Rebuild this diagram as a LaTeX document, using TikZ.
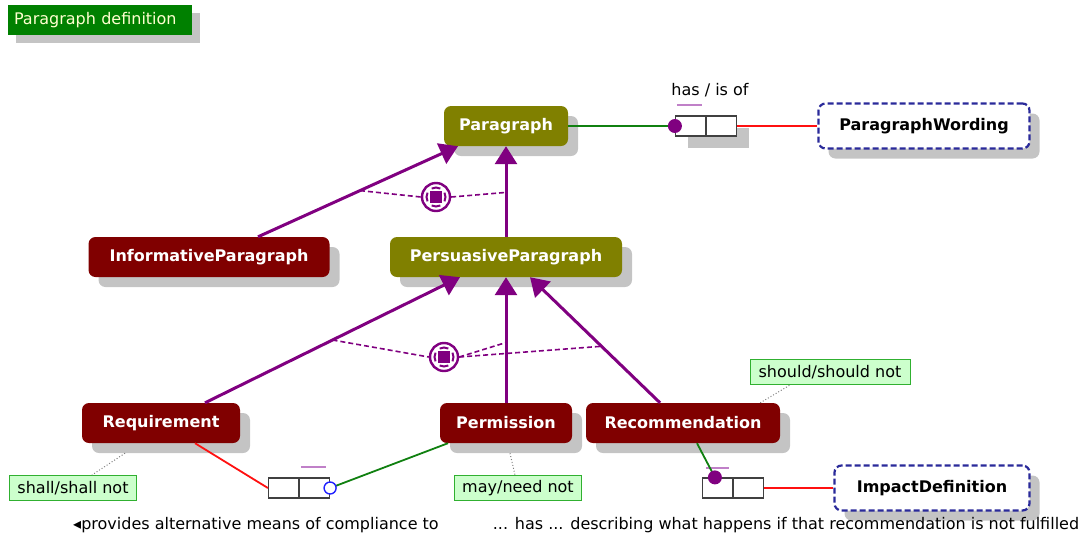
\documentclass[tikz,border=0pt]{standalone}
\usepackage{fontspec}
\setmainfont{DejaVu Sans}
\usetikzlibrary{arrows.meta,shadows,calc}
\definecolor{olivebox}{HTML}{808000}
\definecolor{maroonbox}{HTML}{800000}
\definecolor{purp}{HTML}{800080}
\definecolor{purplight}{HTML}{C080C8}
\definecolor{assocgreen}{HTML}{108010}
\definecolor{assocred}{HTML}{FF1010}
\definecolor{navydash}{HTML}{2A2A9A}
\definecolor{shadowgray}{HTML}{C4C4C4}
\definecolor{notefill}{HTML}{CCFFCC}
\definecolor{noteborder}{HTML}{30B030}
\definecolor{titlegreen}{HTML}{008000}
\definecolor{titletext}{HTML}{FFFFD0}
\definecolor{openblue}{HTML}{2020FF}
\begin{document}
\begin{tikzpicture}[x=1pt,y=-1pt,
  boxshadow/.style={drop shadow={shadow xshift=10pt,shadow yshift=-10pt,fill=shadowgray,opacity=1}},
  cls/.style={rounded corners=7pt,minimum height=40pt,inner sep=0pt,text=white,
    font=\bfseries\fontsize{16}{18}\selectfont,boxshadow},
  olivecls/.style={cls,fill=olivebox},
  maroon/.style={cls,fill=maroonbox},
  extcls/.style={cls,fill=white,draw=navydash,line width=2.2pt,dash pattern=on 6pt off 3pt,
    text=black,minimum height=45pt},
  note/.style={fill=notefill,draw=noteborder,line width=1pt,minimum height=25pt,inner sep=0pt,
    font=\fontsize{16}{18}\selectfont},
  lbl/.style={font=\fontsize{16}{18}\selectfont,inner sep=0pt},
  gen/.style={draw=purp,line width=3pt,-{Triangle[length=18pt,width=22pt]}},
  gsline/.style={draw=purp,line width=1.6pt,dash pattern=on 5pt off 3pt},
  gsring/.style={circle,draw=purp,line width=2.4pt,fill=white,minimum size=28pt,inner sep=0pt},
  multbox/.style={draw=black!75,line width=1.2pt,fill=white,minimum width=61pt,minimum height=20pt,inner sep=0pt},
  multmark/.style={draw=purplight,line width=2pt},
  assocg/.style={draw=assocgreen,line width=1.8pt},
  assocr/.style={draw=assocred,line width=1.8pt},
  notelink/.style={draw=gray,line width=1pt,dotted},
  enddot/.style={circle,fill=purp,minimum size=14pt,inner sep=0pt},
  endopen/.style={circle,draw=openblue,fill=white,line width=1.4pt,minimum size=12pt,inner sep=0pt}
]
\useasboundingbox (0,0) rectangle (1089,539);

% title tab
\node[fill=titlegreen,text=titletext,text width=172pt,inner xsep=6pt,align=left,
  minimum height=30pt,inner ysep=0pt,font=\fontsize{16}{18}\selectfont,
  drop shadow={shadow xshift=8pt,shadow yshift=-8pt,fill=shadowgray,opacity=1}]
  (title) at (100,20) {Paragraph definition};

% classes
\node[olivecls,minimum width=124pt] (para) at (506,126) {Paragraph};
\node[extcls,minimum width=211pt] (wording) at (924,126) {ParagraphWording};
\node[maroon,minimum width=241pt] (info) at (209,257) {InformativeParagraph};
\node[olivecls,minimum width=232pt] (pers) at (506,257) {PersuasiveParagraph};
\node[maroon,minimum width=158pt] (req) at (161,423) {Requirement};
\node[maroon,minimum width=132pt] (perm) at (506,423) {Permission};
\node[maroon,minimum width=194pt] (rec) at (683,423) {Recommendation};
\node[extcls,minimum width=195pt] (impact) at (932,488) {ImpactDefinition};

% notes
\node[note,minimum width=160pt] (nshould) at (830,372) {should/should not};
\node[note,minimum width=127pt] (nshall) at (73,488) {shall/shall not};
\node[note,minimum width=127pt] (nmay) at (518,488) {may/need not};

% association ends
\node[multbox,drop shadow={shadow xshift=12pt,shadow yshift=-12pt,fill=shadowgray,opacity=1}]
  (mb1) at (706,126) {};
\node[multbox] (mb2) at (299,488) {};
\node[multbox] (mb3) at (733,488) {};
\foreach \m in {mb1,mb2,mb3}{\draw[black!75,line width=1.2pt] (\m.north) -- (\m.south);}
\node[lbl] (haslbl) at (710,90) {has / is of};
\draw[multmark] ([shift={(2,-10)}]mb1.north west) -- ++(25,0);
\draw[multmark] ([shift={(33,-10)}]mb2.north west) -- ++(25,0);
\draw[multmark] ([shift={(4,-9)}]mb3.north west) -- ++(23,0);
\coordinate (mb1end) at (mb1.west);
\coordinate (mb2end) at (mb2.east);
\coordinate (mb3end) at ([xshift=13pt]mb3.north west);

% generalizations
\draw[gen] ([xshift=49pt]info.north) -- coordinate[pos=0.51] (gi) ([xshift=-48pt]para.south);
\draw[gen] (pers.north) -- coordinate[pos=0.49] (gp) (para.south);
\draw[gen] ([xshift=44pt]req.north) -- coordinate[pos=0.5] (gr) ([xshift=-46pt]pers.south);
\draw[gen] (perm.north) -- coordinate[pos=0.48] (gm) (pers.south);
\draw[gen] ([xshift=-23pt]rec.north) -- coordinate[pos=0.45] (gc) ([xshift=24pt]pers.south);

% generalization sets
\node[gsring] (gs1) at (436,197) {};
\node[gsring] (gs2) at (444,357) {};
\draw[gsline] (gi) -- (gs1.west);
\draw[gsline] (gs1.east) -- (gp);
\draw[gsline] (gr) -- (gs2.west);
\draw[gsline] (gs2.east) -- (gm);
\draw[gsline] (gs2.east) -- (gc);
\foreach \g in {gs1,gs2}{
  \fill[purp] ([shift={(-6,-6)}]\g.center) rectangle ([shift={(6,6)}]\g.center);
  \foreach \a in {0,90,180,270}{
    \draw[purp,line width=2pt] ([shift={(\a-27:9.5pt)}]\g.center) arc[start angle=\a-27,end angle=\a+27,radius=9.5pt];
  }
}

% associations
\draw[assocg] (para.east) -- (mb1end);
\draw[assocr] (mb1.east) -- (wording.west);
\draw[assocr] ([xshift=34pt]req.south) -- (mb2.west);
\draw[assocg] (mb2end) -- ([xshift=-58pt]perm.south);
\draw[assocg] ([xshift=14pt]rec.south) -- (mb3end);
\draw[assocr] (mb3.east) -- (impact.west);
\node[enddot] (dot1) at (mb1end) {};
\node[endopen] (dot2) at (mb2end) {};
\node[enddot] (dot3) at (mb3end) {};

% note links
\draw[notelink] ([xshift=-20pt]rec.north east) -- ([xshift=-40pt]nshould.south);
\draw[notelink] ([shift={(-36,10)}]req.south) -- ([xshift=19pt]nshall.north);
\draw[notelink] ([shift={(4,10)}]perm.south) -- ([xshift=-3pt]nmay.north);

% association names
\node[lbl] (name1) at (256,525) {◂provides alternative means of compliance to};
\node[lbl] (name2) at (786,525) {... has ... describing what happens if that recommendation is not fulfilled};
\end{tikzpicture}
\end{document}
